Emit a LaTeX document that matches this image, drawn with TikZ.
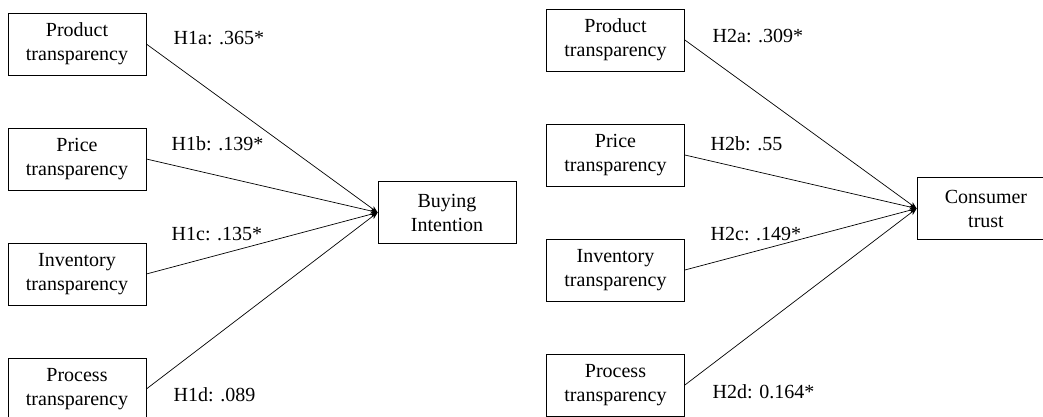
\documentclass[tikz,border=0pt]{standalone}
\usepackage{fontspec}
\setmainfont{Liberation Serif}
\usetikzlibrary{arrows.meta}

\begin{document}
\begin{tikzpicture}
[->,>={Stealth[length=7pt,width=5.5pt,inset=2pt]},x=1pt,y=-1pt,node distance=115pt,line width=0.7pt,
 var/.style={rectangle,draw=black,minimum width=138pt,minimum height=62pt,align=center,font=\fontsize{20}{24}\selectfont},
 hyp/.style={anchor=base west,font=\fontsize{20}{24}\selectfont}]
\useasboundingbox (0,0) rectangle (1043,416);
% buying intention
            \node[var] (p1) at (77,44) {Product\\transparency};
            \node[var] (p2) [below of=p1] {Price\\transparency};
            \node[var] (p3) [below of=p2] {Inventory\\transparency};
            \node[var] (p4) [below of=p3] {Process\\transparency};
            \node[var] (bi) at (447,212.5) {Buying\\Intention};
            \draw (p1.east) -- (bi.west);
            \draw (p2.east) -- (bi.west);
            \draw (p3.east) -- (bi.west);
            \draw (p4.east) -- (bi.west);
            \node[hyp] (h1a) at (170,44) {H1a: .365*};
            \node[hyp] (h1b) at (168,150) {H1b: .139*};
            \node[hyp] (h1c) at (168,240) {H1c: .135*};
            \node[hyp] (h1d) at (170,401) {H1d: .089};
% consumer trust
            \node[var] (q1) at (615.5,40) {Product\\transparency};
            \node[var] (q2) [below of=q1] {Price\\transparency};
            \node[var] (q3) [below of=q2] {Inventory\\transparency};
            \node[var] (q4) [below of=q3] {Process\\transparency};
            \node[var] (ct) at (986,208.5) {Consumer\\trust};
            \draw (q1.east) -- (ct.west);
            \draw (q2.east) -- (ct.west);
            \draw (q3.east) -- (ct.west);
            \draw (q4.east) -- (ct.west);
            \node[hyp] (h2a) at (709,42) {H2a: .309*};
            \node[hyp] (h2b) at (707,150) {H2b: .55};
            \node[hyp] (h2c) at (707,240) {H2c: .149*};
            \node[hyp] (h2d) at (709,398) {H2d: 0.164*};
\end{tikzpicture}
\end{document}
